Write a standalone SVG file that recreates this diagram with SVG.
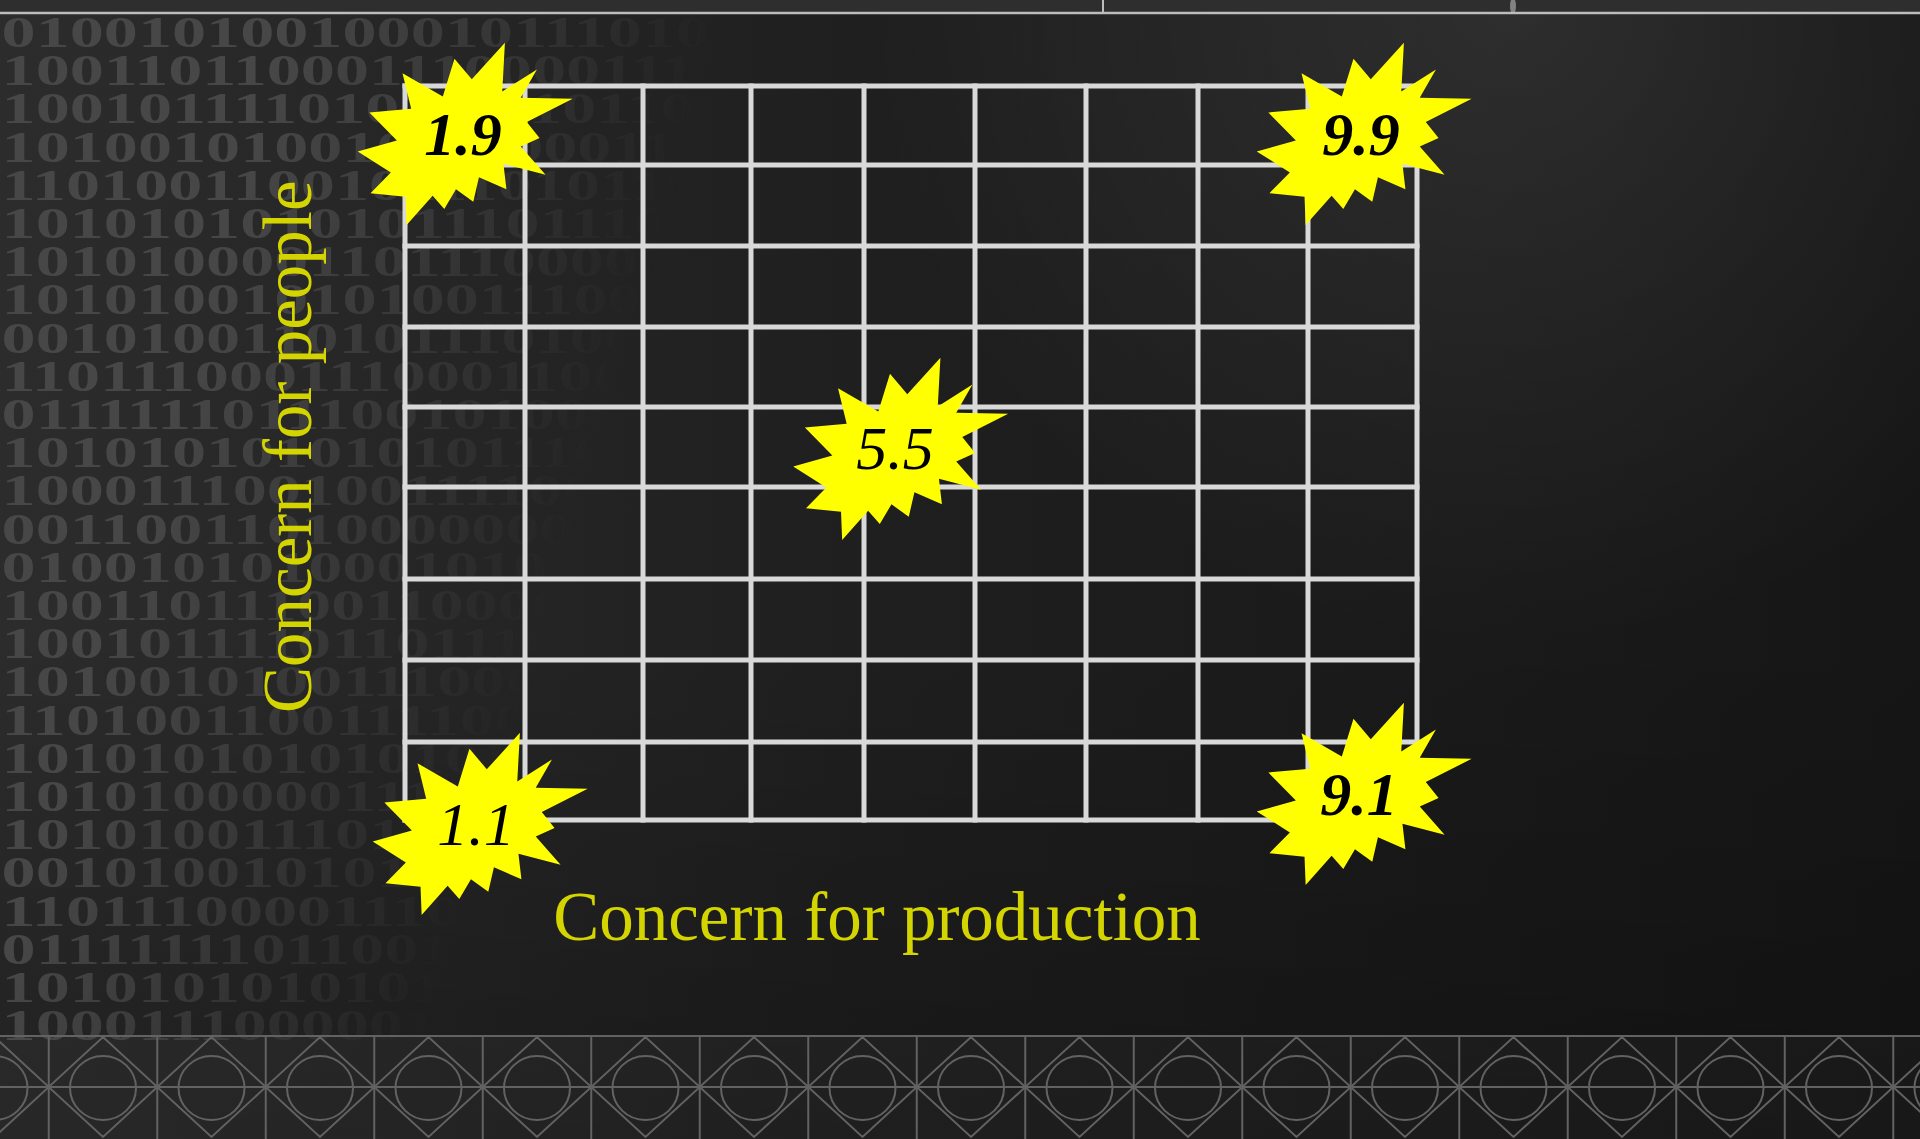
<svg xmlns="http://www.w3.org/2000/svg" width="1920" height="1139" viewBox="0 0 1920 1139">
<defs>
<linearGradient id="bg" x1="0" y1="0" x2="1" y2="0">
<stop offset="0" stop-color="#2c2c2c"/>
<stop offset="0.45" stop-color="#1f1f1f"/>
<stop offset="1" stop-color="#161616"/>
</linearGradient>
<linearGradient id="bgV" x1="0" y1="0" x2="0" y2="1">
<stop offset="0" stop-color="#000" stop-opacity="0"/>
<stop offset="0.55" stop-color="#000" stop-opacity="0"/>
<stop offset="1" stop-color="#000" stop-opacity="0.25"/>
</linearGradient>
<radialGradient id="glow" cx="1515" cy="0" r="650" gradientUnits="userSpaceOnUse">
<stop offset="0" stop-color="#fff" stop-opacity="0.09"/>
<stop offset="1" stop-color="#fff" stop-opacity="0"/>
</radialGradient>
<linearGradient id="fadeGrad" gradientUnits="userSpaceOnUse" x1="0" y1="0" x2="676" y2="196">
<stop offset="0.4" stop-color="#fff"/>
<stop offset="1" stop-color="#000"/>
</linearGradient>
<mask id="fadeMask" maskUnits="userSpaceOnUse" x="0" y="0" width="1920" height="1139">
<rect width="1920" height="1139" fill="url(#fadeGrad)"/>
</mask>
<symbol id="seal" viewBox="0 0 21600 21600" preserveAspectRatio="none">
<path d="M11462,4342 L14790,0 L14525,5777 L18007,3172 L16380,6532 L21600,6645 L16985,9402 L18270,11290 L16380,12310 L18877,15632 L14640,14350 L14942,17370 L12180,15935 L11612,18842 L9872,17370 L8700,19712 L7527,18125 L4917,21600 L4805,18240 L1285,17825 L3330,15370 L0,12877 L3935,11592 L1172,8270 L5372,7817 L4502,3625 L8550,6382 L9722,1887 Z" fill="#ffff00"/>
</symbol>
</defs>
<style>
.grid line{stroke:#d9d9d9;stroke-width:5}
.digits text{font-family:"Liberation Serif",serif;font-weight:bold;font-size:44px;fill:#474747}
.axis{font-family:"Liberation Serif",serif;font-size:69px;fill:#d4d400}
.val{font-family:"Liberation Serif",serif;font-size:62px;font-style:italic;fill:#000;text-anchor:middle}
.band{stroke:#626262;stroke-width:2;fill:none}
</style>

<g id="background">
<rect width="1920" height="1139" fill="url(#bg)"/>
<rect width="1920" height="1139" fill="url(#bgV)"/>
<rect width="1920" height="1139" fill="url(#glow)"/>
<rect x="0" y="0" width="1920" height="12" fill="#2e2e2e"/>
<line x1="0" y1="13" x2="1920" y2="13" stroke="#bdbdbd" stroke-width="2.5"/>
<line x1="1103" y1="0" x2="1103" y2="13" stroke="#bdbdbd" stroke-width="2"/>
<ellipse cx="1513" cy="6" rx="3" ry="8" fill="#bbbbbb" opacity="0.6"/>
</g>

<g mask="url(#fadeMask)">
<g class="digits" transform="scale(1.55,1)">
<text x="1" y="47">0100101001000101110101</text>
<text x="1" y="85.2">1001101100011100001111</text>
<text x="1" y="123.4">1001011110101101101101</text>
<text x="1" y="161.6">1010010100100110001110</text>
<text x="1" y="199.8">1101001100101110101101</text>
<text x="1" y="238">1010101010101110111010</text>
<text x="1" y="276.2">1010100001101110000110</text>
<text x="1" y="314.4">1010100101010011100101</text>
<text x="1" y="352.6">0010100110101110100110</text>
<text x="1" y="390.8">1101110001110001100010</text>
<text x="1" y="429">0111111011100101000010</text>
<text x="1" y="467.2">1010101010101011101010</text>
<text x="1" y="505.4">1000111001001111000101</text>
<text x="1" y="543.6">0011001101000000010111</text>
<text x="1" y="581.8">0100101010001010110101</text>
<text x="1" y="620">1001101110011000010011</text>
<text x="1" y="658.2">1001011110110111011010</text>
<text x="1" y="696.4">1010010100111000101101</text>
<text x="1" y="734.6">1101001100111100111010</text>
<text x="1" y="772.8">1010101010101010101011</text>
<text x="1" y="811">1010100000111110001101</text>
<text x="1" y="849.2">1010100111011001101010</text>
<text x="1" y="887.4">0010100101010110111010</text>
<text x="1" y="925.6">1101110000111001011001</text>
<text x="1" y="963.8">0111111101100101001010</text>
<text x="1" y="1002">1010101010101010110101</text>
<text x="1" y="1040.2">1000111000001101010010</text>
</g>
</g>

<g id="bottom-band">
<rect x="0" y="1036" width="1920" height="103" fill="#ffffff" opacity="0.03"/>
<line class="band" x1="0" y1="1036" x2="1920" y2="1036"/>
<line class="band" x1="0" y1="1087" x2="1920" y2="1087"/>
<path class="band" d="M48.75,1036V1139M157.25,1036V1139M265.75,1036V1139M374.25,1036V1139M482.75,1036V1139M591.25,1036V1139M699.75,1036V1139M808.25,1036V1139M916.75,1036V1139M1025.25,1036V1139M1133.75,1036V1139M1242.25,1036V1139M1350.75,1036V1139M1459.25,1036V1139M1567.75,1036V1139M1676.25,1036V1139M1784.75,1036V1139M1893.25,1036V1139"/>
<polyline class="band" points="-5.5,1037 48.75,1087 103,1037 157.25,1087 211.5,1037 265.75,1087 320,1037 374.25,1087 428.5,1037 482.75,1087 537,1037 591.25,1087 645.5,1037 699.75,1087 754,1037 808.25,1087 862.5,1037 916.75,1087 971,1037 1025.25,1087 1079.5,1037 1133.75,1087 1188,1037 1242.25,1087 1296.5,1037 1350.75,1087 1405,1037 1459.25,1087 1513.5,1037 1567.75,1087 1622,1037 1676.25,1087 1730.5,1037 1784.75,1087 1839,1037 1893.25,1087 1947.5,1037"/>
<polyline class="band" points="-5.5,1137 48.75,1087 103,1137 157.25,1087 211.5,1137 265.75,1087 320,1137 374.25,1087 428.5,1137 482.75,1087 537,1137 591.25,1087 645.5,1137 699.75,1087 754,1137 808.25,1087 862.5,1137 916.75,1087 971,1137 1025.25,1087 1079.5,1137 1133.75,1087 1188,1137 1242.25,1087 1296.5,1137 1350.75,1087 1405,1137 1459.25,1087 1513.5,1137 1567.75,1087 1622,1137 1676.25,1087 1730.5,1137 1784.75,1087 1839,1137 1893.25,1087 1947.5,1137"/>
<g class="band">
<ellipse cx="-5.5" cy="1088" rx="33" ry="32"/>
<ellipse cx="103" cy="1088" rx="33" ry="32"/>
<ellipse cx="211.5" cy="1088" rx="33" ry="32"/>
<ellipse cx="320" cy="1088" rx="33" ry="32"/>
<ellipse cx="428.5" cy="1088" rx="33" ry="32"/>
<ellipse cx="537" cy="1088" rx="33" ry="32"/>
<ellipse cx="645.5" cy="1088" rx="33" ry="32"/>
<ellipse cx="754" cy="1088" rx="33" ry="32"/>
<ellipse cx="862.5" cy="1088" rx="33" ry="32"/>
<ellipse cx="971" cy="1088" rx="33" ry="32"/>
<ellipse cx="1079.5" cy="1088" rx="33" ry="32"/>
<ellipse cx="1188" cy="1088" rx="33" ry="32"/>
<ellipse cx="1296.5" cy="1088" rx="33" ry="32"/>
<ellipse cx="1405" cy="1088" rx="33" ry="32"/>
<ellipse cx="1513.5" cy="1088" rx="33" ry="32"/>
<ellipse cx="1622" cy="1088" rx="33" ry="32"/>
<ellipse cx="1730.5" cy="1088" rx="33" ry="32"/>
<ellipse cx="1839" cy="1088" rx="33" ry="32"/>
<ellipse cx="1947.5" cy="1088" rx="33" ry="32"/>
</g>
</g>

<g id="grid" class="grid">
<line x1="405" y1="83.5" x2="405" y2="822.5"/>
<line x1="525" y1="83.5" x2="525" y2="822.5"/>
<line x1="643" y1="83.5" x2="643" y2="822.5"/>
<line x1="751" y1="83.5" x2="751" y2="822.5"/>
<line x1="864" y1="83.5" x2="864" y2="822.5"/>
<line x1="975" y1="83.5" x2="975" y2="822.5"/>
<line x1="1086" y1="83.5" x2="1086" y2="822.5"/>
<line x1="1198" y1="83.5" x2="1198" y2="822.5"/>
<line x1="1308" y1="83.5" x2="1308" y2="822.5"/>
<line x1="1417" y1="83.5" x2="1417" y2="822.5"/>
<line x1="402.5" y1="86" x2="1419.5" y2="86"/>
<line x1="402.5" y1="165" x2="1419.5" y2="165"/>
<line x1="402.5" y1="246" x2="1419.5" y2="246"/>
<line x1="402.5" y1="327" x2="1419.5" y2="327"/>
<line x1="402.5" y1="407" x2="1419.5" y2="407"/>
<line x1="402.5" y1="487" x2="1419.5" y2="487"/>
<line x1="402.5" y1="579" x2="1419.5" y2="579"/>
<line x1="402.5" y1="660" x2="1419.5" y2="660"/>
<line x1="402.5" y1="742" x2="1419.5" y2="742"/>
<line x1="402.5" y1="820" x2="1419.5" y2="820"/>
</g>

<g id="axis-labels">
<text class="axis" transform="translate(311,713) rotate(-90)">Concern for people</text>
<text class="axis" x="877" y="940" text-anchor="middle">Concern for production</text>
</g>

<g id="connectors"></g>

<g id="node-1-9">
<use href="#seal" x="357.7" y="42.7" width="215" height="182.3"/>
<text class="val" x="463" y="155" font-weight="bold">1.9</text>
</g>
<g id="node-9-9">
<use href="#seal" x="1256.7" y="42.7" width="215" height="182.3"/>
<text class="val" x="1361" y="155" font-weight="bold">9.9</text>
</g>
<g id="node-5-5">
<use href="#seal" x="793.2" y="357.7" width="215" height="182.3"/>
<text class="val" x="895" y="469">5.5</text>
</g>
<g id="node-1-1">
<use href="#seal" x="372.7" y="732.7" width="215" height="182.3"/>
<text class="val" x="476" y="845">1.1</text>
</g>
<g id="node-9-1">
<use href="#seal" x="1256.7" y="702.7" width="215" height="182.3"/>
<text class="val" x="1359" y="815" font-weight="bold">9.1</text>
</g>
</svg>
